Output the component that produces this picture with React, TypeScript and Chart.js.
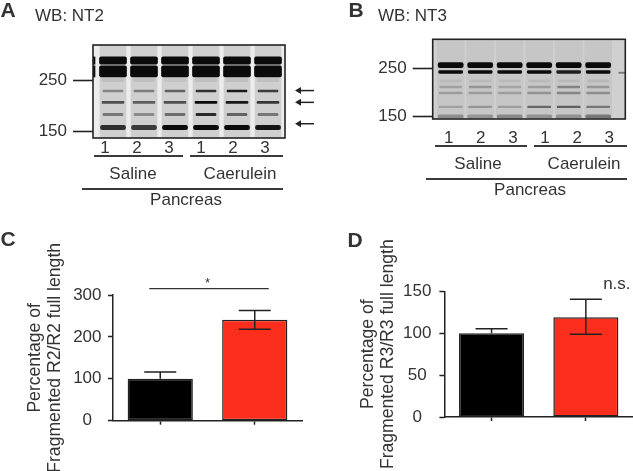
import React, { useEffect, useRef } from "react";
import { Chart, registerables } from "chart.js";

Chart.register(...registerables);

const FONT = "'Liberation Sans', Arial, sans-serif";
const INK = "#333333";
const LINE = "#222222";

// Panels C and D
const groups = ["Saline", "Caerulein"];
const r2Values = [100, 241];
const r2Upper = [116, 263];
const r2Lower = [100, 218];
const r3Values = [100, 119];
const r3Upper = [105.4, 140.4];
const r3Lower = [100, 98.7];
const barColors = ["#000000", "#fb2d1c"];

// Blots: lane labels and molecular weight ticks
const laneLabels = ["1", "2", "3", "1", "2", "3"];
const lanes = [1, 2, 3, 4, 5, 6];
const mwTicks = [150, 250];

// Blot NT2: [low kDa, high kDa] and darkness per lane
const nt2Ranges = [
  [293, 315],
  [258, 288],
  [246, 254],
  [222, 226],
  [198, 202],
  [175, 179],
  [152, 159],
];
const nt2Dark = [
  [1, 1, 1, 1, 1, 1],
  [1, 1, 1, 1, 1, 1],
  [0.08, 0.08, 0.06, 0.08, 0.08, 0.08],
  [0.38, 0.42, 0.55, 0.8, 0.92, 0.75],
  [0.65, 0.58, 0.65, 1, 0.92, 0.78],
  [0.45, 0.35, 0.5, 0.85, 0.55, 0.45],
  [0.82, 0.75, 1, 1, 1, 0.95],
];
const nt2Widths = [27, 27, 22, 20, 22, 20, 25];
const nt2Arrows = [225, 200, 161.5];
const nt2Extras = [
  { x: 0, y: [293, 315], dark: 1, w: 26 },
  { x: 0, y: [258, 288], dark: 1, w: 26 },
];

// Blot NT3
const nt3Ranges = [
  [253, 267],
  [238, 245],
  [217, 222],
  [204, 208],
  [191, 195],
  [165, 168],
  [148, 153],
];
const nt3Dark = [
  [1, 1, 1, 1, 1, 1],
  [1, 1, 1, 1, 0.9, 1],
  [0.07, 0.07, 0.07, 0.07, 0.07, 0.08],
  [0.2, 0.26, 0.18, 0.22, 0.36, 0.25],
  [0.22, 0.22, 0.22, 0.28, 0.34, 0.3],
  [0.2, 0.26, 0.22, 0.5, 0.55, 0.42],
  [0.3, 0.26, 0.32, 0.28, 0.28, 0.42],
];
const nt3Widths = [25, 24, 21, 22, 23, 23, 25];
const nt3Extras = [{ x: 6.8, y: [238, 241], dark: 0.45, w: 6 }];

type Extra = { x: number; y: number[]; dark: number; w: number };
type BlotProps = {
  left: number; top: number; width: number; height: number;
  area: { left: number; top: number; right: number; bottom: number };
  mwMin: number; mwMax: number; laneMin: number; laneMax: number;
  ranges: number[][]; dark: number[][]; widths: number[]; extras: Extra[]; arrows: number[];
  tickLength: number; tickPadding: number; labelPad: number; labelOffset: number;
  laneWidth: number; gapColor: string; laneColor: string;
};

function Blot(p: BlotProps) {
  const ref = useRef<HTMLCanvasElement>(null);
  useEffect(() => {
    const blotPlugin = {
      id: "blotPlugin",
      beforeDatasetsDraw(c: any) {
        const { ctx, chartArea: a } = c;
        ctx.save();
        ctx.fillStyle = p.gapColor;
        ctx.fillRect(a.left, a.top, a.right - a.left, a.bottom - a.top);
        ctx.beginPath();
        ctx.rect(a.left, a.top, a.right - a.left, a.bottom - a.top);
        ctx.clip();
        ctx.filter = "blur(0.7px)";
      },
      afterDatasetsDraw(c: any) {
        const { ctx, chartArea: a, scales } = c;
        ctx.restore();
        ctx.save();
        ctx.strokeStyle = LINE;
        ctx.lineWidth = 1.6;
        ctx.strokeRect(a.left, a.top, a.right - a.left, a.bottom - a.top);
        ctx.lineWidth = 1.5;
        ctx.fillStyle = LINE;
        p.arrows.forEach((mw) => {
          const y = scales.y.getPixelForValue(mw);
          const x0 = a.right + 10;
          const x1 = a.right + 29;
          ctx.beginPath();
          ctx.moveTo(x0 + 4, y);
          ctx.lineTo(x1, y);
          ctx.stroke();
          ctx.beginPath();
          ctx.moveTo(x0, y);
          ctx.lineTo(x0 + 6, y - 3.5);
          ctx.lineTo(x0 + 6, y + 3.5);
          ctx.closePath();
          ctx.fill();
        });
        ctx.restore();
      },
    };
    const datasets: any[] = p.ranges.map((range, r) => ({
      type: "bar",
      xAxisID: "lane",
      yAxisID: "y",
      grouped: false,
      data: lanes.map((l) => ({ x: l, y: range })),
      backgroundColor: p.dark[r].map((d) => `rgba(10,10,10,${d})`),
      barThickness: p.widths[r],
      borderRadius: 2,
      borderSkipped: false,
      order: 1,
    }));
    p.extras.forEach((e) => {
      datasets.push({
        type: "bar",
        xAxisID: "lane",
        yAxisID: "y",
        grouped: false,
        data: [{ x: e.x, y: e.y }],
        backgroundColor: `rgba(10,10,10,${e.dark})`,
        barThickness: e.w,
        order: 1,
      });
    });
    datasets.push({
      type: "bar",
      xAxisID: "lane",
      yAxisID: "y",
      grouped: false,
      data: lanes.map((l) => ({ x: l, y: [p.mwMin, p.mwMax] })),
      backgroundColor: p.laneColor,
      barThickness: p.laneWidth,
      order: 2,
    });
    const chart = new Chart(ref.current!, {
      data: { labels: laneLabels, datasets },
      plugins: [blotPlugin],
      options: {
        responsive: false,
        animation: false,
        layout: {
          padding: { left: 0, top: p.area.top, right: p.width - p.area.right, bottom: 0 },
        },
        plugins: { legend: { display: false }, tooltip: { enabled: false } },
        scales: {
          x: {
            type: "category",
            labels: laneLabels,
            offset: true,
            border: { display: false },
            grid: { display: false, tickLength: 0 },
            ticks: {
              color: INK,
              font: { family: FONT, size: 17 },
              padding: p.labelPad,
              labelOffset: p.labelOffset,
              maxRotation: 0,
              autoSkip: false,
            },
            afterFit(s: any) { s.height = p.height - p.area.bottom; },
          },
          lane: {
            type: "linear",
            display: false,
            offset: false,
            min: p.laneMin,
            max: p.laneMax,
          },
          y: {
            type: "logarithmic",
            min: p.mwMin,
            max: p.mwMax,
            border: { display: false },
            grid: {
              drawOnChartArea: false,
              tickLength: p.tickLength,
              tickColor: LINE,
              tickWidth: 1.6,
            },
            ticks: {
              color: INK,
              font: { family: FONT, size: 17 },
              padding: p.tickPadding,
              callback: (v: any) => String(v),
            },
            afterBuildTicks(s: any) { s.ticks = mwTicks.map((value) => ({ value, major: true })); },
            afterFit(s: any) { s.width = p.area.left; },
          },
        },
      } as any,
    } as any);
    return () => chart.destroy();
  }, []);
  return (
    <canvas
      ref={ref}
      width={p.width}
      height={p.height}
      style={{ position: "absolute", left: p.left, top: p.top, width: p.width, height: p.height }}
    />
  );
}

type BarProps = {
  left: number; top: number; width: number; height: number;
  areaLeft: number; areaRight: number; areaTop: number; areaBottom: number;
  values: number[]; upper: number[]; lower: number[]; yMax: number; yStep: number;
  titleText: string[]; titlePad: number; tickPad: number;
  bracket?: { from: number; to: number; at: number; text: string };
  noteText?: { at: number; text: string; dx: number };
};

function BarPanel(p: BarProps) {
  const ref = useRef<HTMLCanvasElement>(null);
  useEffect(() => {
    const errorPlugin = {
      id: "errorPlugin",
      afterDatasetsDraw(c: any) {
        const { ctx, scales } = c;
        ctx.save();
        ctx.strokeStyle = LINE;
        ctx.lineWidth = 1.5;
        p.values.forEach((_, i) => {
          const x = scales.x.getPixelForValue(i);
          const yU = scales.y.getPixelForValue(p.upper[i]);
          const yL = scales.y.getPixelForValue(p.lower[i]);
          ctx.beginPath();
          ctx.moveTo(x, yU);
          ctx.lineTo(x, yL);
          ctx.moveTo(x - 16, yU);
          ctx.lineTo(x + 16, yU);
          if (p.lower[i] < p.values[i]) {
            ctx.moveTo(x - 16, yL);
            ctx.lineTo(x + 16, yL);
          }
          ctx.stroke();
        });
        ctx.fillStyle = INK;
        ctx.textAlign = "center";
        ctx.textBaseline = "middle";
        if (p.bracket) {
          const b = p.bracket;
          const y = scales.y.getPixelForValue(b.at);
          const cx0 = scales.x.getPixelForValue(b.from);
          const cx1 = scales.x.getPixelForValue(b.to);
          ctx.strokeStyle = INK;
          ctx.lineWidth = 1.3;
          ctx.beginPath();
          ctx.moveTo(cx0 - 11, y);
          ctx.lineTo(cx1 + 14, y);
          ctx.stroke();
          ctx.font = `13px ${FONT}`;
          ctx.fillText(b.text, (cx0 + cx1) / 2, y - 5);
        }
        if (p.noteText) {
          const n = p.noteText;
          ctx.font = `17px ${FONT}`;
          ctx.fillText(n.text, scales.x.getPixelForValue(1) + n.dx, scales.y.getPixelForValue(n.at));
        }
        ctx.restore();
      },
    };
    const chart = new Chart(ref.current!, {
      type: "bar",
      data: {
        labels: groups,
        datasets: [
          {
            data: p.values,
            backgroundColor: barColors,
            borderColor: LINE,
            borderWidth: 1.5,
            borderSkipped: false,
            barPercentage: 0.69,
            categoryPercentage: 1,
          },
        ],
      },
      plugins: [errorPlugin],
      options: {
        responsive: false,
        animation: false,
        layout: {
          padding: { left: 0, top: p.areaTop, right: Math.max(0, p.width - p.areaRight), bottom: 0 },
        },
        plugins: { legend: { display: false }, tooltip: { enabled: false } },
        scales: {
          x: {
            border: { color: LINE, width: 1.5 },
            grid: { drawOnChartArea: false, offset: false, tickLength: 4, tickColor: LINE, tickWidth: 1.5 },
            ticks: { display: false },
            afterFit(s: any) { s.height = p.height - p.areaBottom; },
          },
          y: {
            min: 0,
            max: p.yMax,
            border: { color: LINE, width: 1.5 },
            grid: { drawOnChartArea: false, tickLength: 5, tickColor: LINE, tickWidth: 1.5 },
            ticks: {
              stepSize: p.yStep,
              color: INK,
              crossAlign: "center",
              padding: p.tickPad,
              font: { family: FONT, size: 17 },
            },
            title: {
              display: true,
              text: p.titleText,
              color: INK,
              font: { family: FONT, size: 17.6, lineHeight: 1.16 },
              padding: { top: p.titlePad, bottom: 0 },
            },
            afterFit(s: any) { s.width = p.areaLeft; },
          },
        },
      } as any,
    } as any);
    return () => chart.destroy();
  }, []);
  return (
    <canvas
      ref={ref}
      width={p.width}
      height={p.height}
      style={{ position: "absolute", left: p.left, top: p.top, width: p.width, height: p.height }}
    />
  );
}

const textStyle = (x: number, y: number, size: number, bold = false, center = true): React.CSSProperties => ({
  position: "absolute",
  left: x,
  top: y - size * 0.6,
  lineHeight: `${size * 1.2}px`,
  fontSize: size,
  fontFamily: FONT,
  fontWeight: bold ? 700 : 400,
  color: INK,
  whiteSpace: "nowrap",
  transform: center ? "translateX(-50%)" : undefined,
});

const Rule = ({ x0, x1, y }: { x0: number; x1: number; y: number }) => (
  <div style={{ position: "absolute", left: x0, width: x1 - x0, top: y - 0.75, height: 1.5, background: "#3a3a3a" }} />
);

export default function App() {
  return (
    <div style={{ position: "absolute", left: 0, top: 0, width: 633, height: 471, overflow: "hidden", background: "#fff" }}>
      <Blot
        left={0} top={0} width={320} height={225}
        area={{ left: 93, top: 45, right: 285, bottom: 138 }}
        mwMin={140} mwMax={355} laneMin={0.355} laneMax={6.548}
        ranges={nt2Ranges} dark={nt2Dark} widths={nt2Widths} extras={nt2Extras} arrows={nt2Arrows}
        tickLength={20} tickPadding={6} labelPad={0} labelOffset={-4}
        laneWidth={26} gapColor="#ececec" laneColor="#cfcfcf"
      />
      <Blot
        left={340} top={0} width={293} height={225}
        area={{ left: 92.7, top: 39.3, right: 285.3, bottom: 119 }}
        mwMin={146.4} mwMax={342} laneMin={0.39} laneMax={6.92}
        ranges={nt3Ranges} dark={nt3Dark} widths={nt3Widths} extras={nt3Extras} arrows={[]}
        tickLength={20} tickPadding={6} labelPad={9} labelOffset={0}
        laneWidth={27} gapColor="#d0d0d0" laneColor="#c6c6c6"
      />
      <BarPanel
        left={0} top={225} width={316} height={246}
        areaLeft={113} areaRight={302} areaTop={70} areaBottom={195.7}
        values={r2Values} upper={r2Upper} lower={r2Lower} yMax={300} yStep={100}
        titleText={["Percentage of", "Fragmented R2/R2 full length"]} titlePad={24.5} tickPad={6.5}
        bracket={{ from: 0, to: 1, at: 315, text: "*" }}
      />
      <BarPanel
        left={320} top={225} width={313} height={246}
        areaLeft={124.4} areaRight={313} areaTop={66.3} areaBottom={192}
        values={r3Values} upper={r3Upper} lower={r3Lower} yMax={150} yStep={50}
        titleText={["Percentage of", "Fragmented R3/R3 full length"]} titlePad={37.5} tickPad={8}
        noteText={{ at: 158, text: "n.s.", dx: 31 }}
      />

      <div style={textStyle(8, 10, 21, true)}>A</div>
      <div style={textStyle(35, 16, 17, false, false)}>WB: NT2</div>
      <Rule x0={94} x1={183} y={156} />
      <Rule x0={190} x1={283} y={156} />
      <Rule x0={82} x1={283} y={189} />
      <div style={textStyle(133, 174, 17)}>Saline</div>
      <div style={textStyle(240, 174, 17)}>Caerulein</div>
      <div style={textStyle(186, 200, 17)}>Pancreas</div>

      <div style={textStyle(356, 10, 21, true)}>B</div>
      <div style={textStyle(378, 16, 17, false, false)}>WB: NT3</div>
      <Rule x0={435} x1={527} y={146} />
      <Rule x0={534} x1={627} y={146} />
      <Rule x0={426} x1={627} y={179} />
      <div style={textStyle(478, 164, 17)}>Saline</div>
      <div style={textStyle(584, 164, 17)}>Caerulein</div>
      <div style={textStyle(530, 190, 17)}>Pancreas</div>

      <div style={textStyle(8, 239, 21, true)}>C</div>
      <div style={textStyle(355, 240, 21, true)}>D</div>
    </div>
  );
}
